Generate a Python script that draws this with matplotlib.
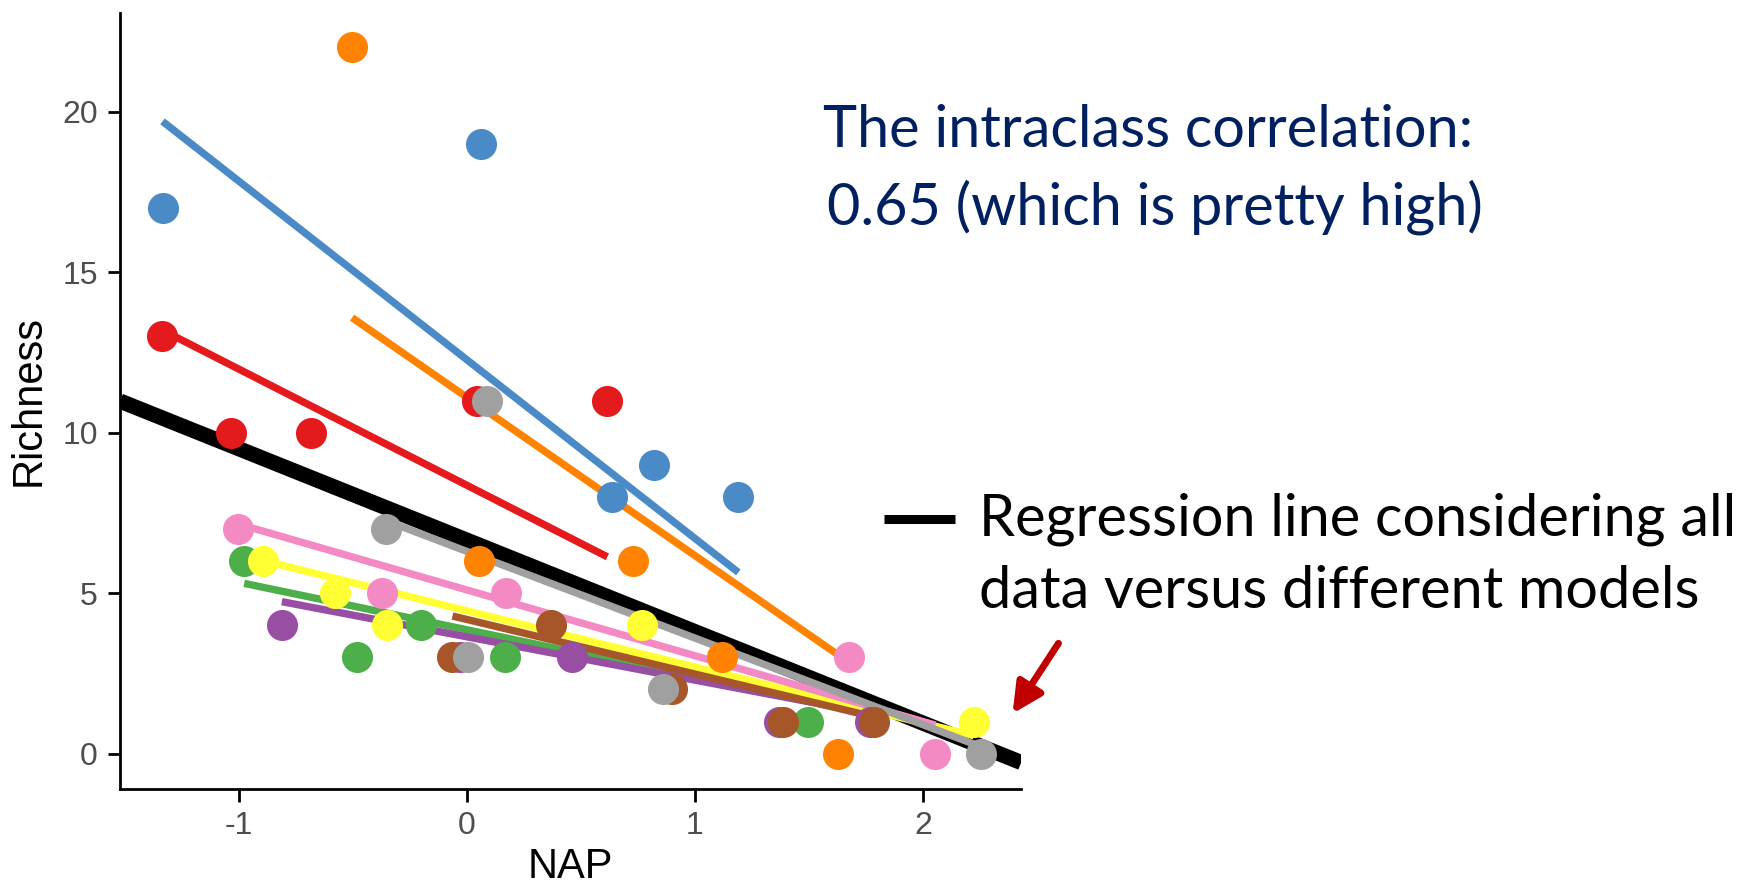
import matplotlib
matplotlib.use("Agg")
import matplotlib.pyplot as plt
from matplotlib.lines import Line2D
from matplotlib.patches import FancyArrowPatch

plt.rcParams['axes.unicode_minus'] = False

# RIKZ data: richness vs NAP, 9 beaches
nap = [
    [0.045, -1.036, -1.336, 0.616, -0.684],   # beach 1
    [1.190, 0.820, 0.635, 0.061, -1.334],     # beach 2
    [-0.976, 1.494, -0.201, -0.482, 0.167],   # beach 3
    [1.768, -0.030, 0.460, 1.367, -0.811],    # beach 4
    [1.117, -0.503, 0.729, 1.627, 0.054],     # beach 5
    [-0.578, -0.348, 2.222, -0.893, 0.766],   # beach 6
    [-0.063, 0.368, 0.900, 1.385, 1.785],     # beach 7
    [-1.004, -0.372, 0.171, 1.675, 2.054],    # beach 8
    [-0.355, 0.090, 0.003, 0.862, 2.256],     # beach 9
]
richness = [
    [11, 10, 13, 11, 10],
    [8, 9, 8, 19, 17],
    [6, 1, 4, 3, 3],
    [1, 3, 3, 1, 4],
    [3, 22, 6, 0, 6],
    [5, 4, 1, 6, 4],
    [3, 4, 2, 1, 1],
    [7, 5, 5, 3, 0],
    [7, 11, 3, 2, 0],
]
# per-beach model lines (intercept, slope)
beach_intercept = [8.36, 12.27, 3.86, 3.64, 11.10, 4.45, 4.18, 5.10, 6.30]
beach_slope = [-3.62, -5.566, -1.48, -1.35, -4.93, -1.75, -1.70, -2.05, -2.70]
# regression on all data
all_intercept = 6.65
all_slope = -2.85

colors = ['#E41A1C', '#4A8AC6', '#4DAF4A', '#984EA3', '#FF8200',
          '#FFFF33', '#A65628', '#F48AC4', '#A0A0A0']

fig = plt.figure(figsize=(17.48, 8.85), dpi=100)
ax = fig.add_axes([0.0687, 0.1085, 0.5155, 0.8768])

ax.axline((0, all_intercept), slope=all_slope, color='black', lw=11,
          solid_capstyle='butt', zorder=1)

for i in range(len(nap)):
    x0, x1 = min(nap[i]), max(nap[i])
    ax.plot([x0, x1],
            [beach_intercept[i] + beach_slope[i] * x0, beach_intercept[i] + beach_slope[i] * x1],
            color=colors[i], lw=5.3, solid_capstyle='butt', zorder=2)

for i in range(len(nap)):
    ax.scatter(nap[i], richness[i], s=500, color=colors[i], linewidths=0, zorder=3)

ax.set_xlim(-1.52, 2.43)
ax.set_ylim(-1.1, 23.07)
ax.set_xticks([-1, 0, 1, 2])
ax.set_yticks([0, 5, 10, 15, 20])
ax.spines['top'].set_visible(False)
ax.spines['right'].set_visible(False)
for s in ['left', 'bottom']:
    ax.spines[s].set_linewidth(2)
ax.tick_params(length=9, width=2, labelsize=23, labelcolor='#4D4D4D', pad=7)
for lab in ax.get_xticklabels() + ax.get_yticklabels():
    lab.set_family('Liberation Sans')
ax.set_xlabel('NAP', fontsize=30, family='Liberation Sans', labelpad=4)
ax.set_ylabel('Richness', fontsize=30, family='Liberation Sans', labelpad=10)

navy = '#002060'
fig.text(0.6568, 0.852, 'The intraclass correlation:', color=navy, fontsize=41.5,
         family='Lato', ha='center', va='center')
fig.text(0.6608, 0.766, '0.65 (which is pretty high)', color=navy, fontsize=41.5,
         family='Lato', ha='center', va='center')

fig.add_artist(Line2D([0.5057, 0.5463], [0.413, 0.413], color='black', lw=6.5,
                      solid_capstyle='butt', transform=fig.transFigure))
fig.text(0.560, 0.4136, 'Regression line considering all', color='black', fontsize=41.5,
         family='Lato', ha='left', va='center')
fig.text(0.560, 0.332, 'data versus different models', color='black', fontsize=41.5,
         family='Lato', ha='left', va='center')

fig.add_artist(FancyArrowPatch(
    (0.6064, 0.2757), (0.5784, 0.1910), transform=fig.transFigure,
    arrowstyle='-|>,head_length=18,head_width=9', mutation_scale=1,
    color='#C00000', lw=5))

fig.savefig('out.png', dpi=100)
